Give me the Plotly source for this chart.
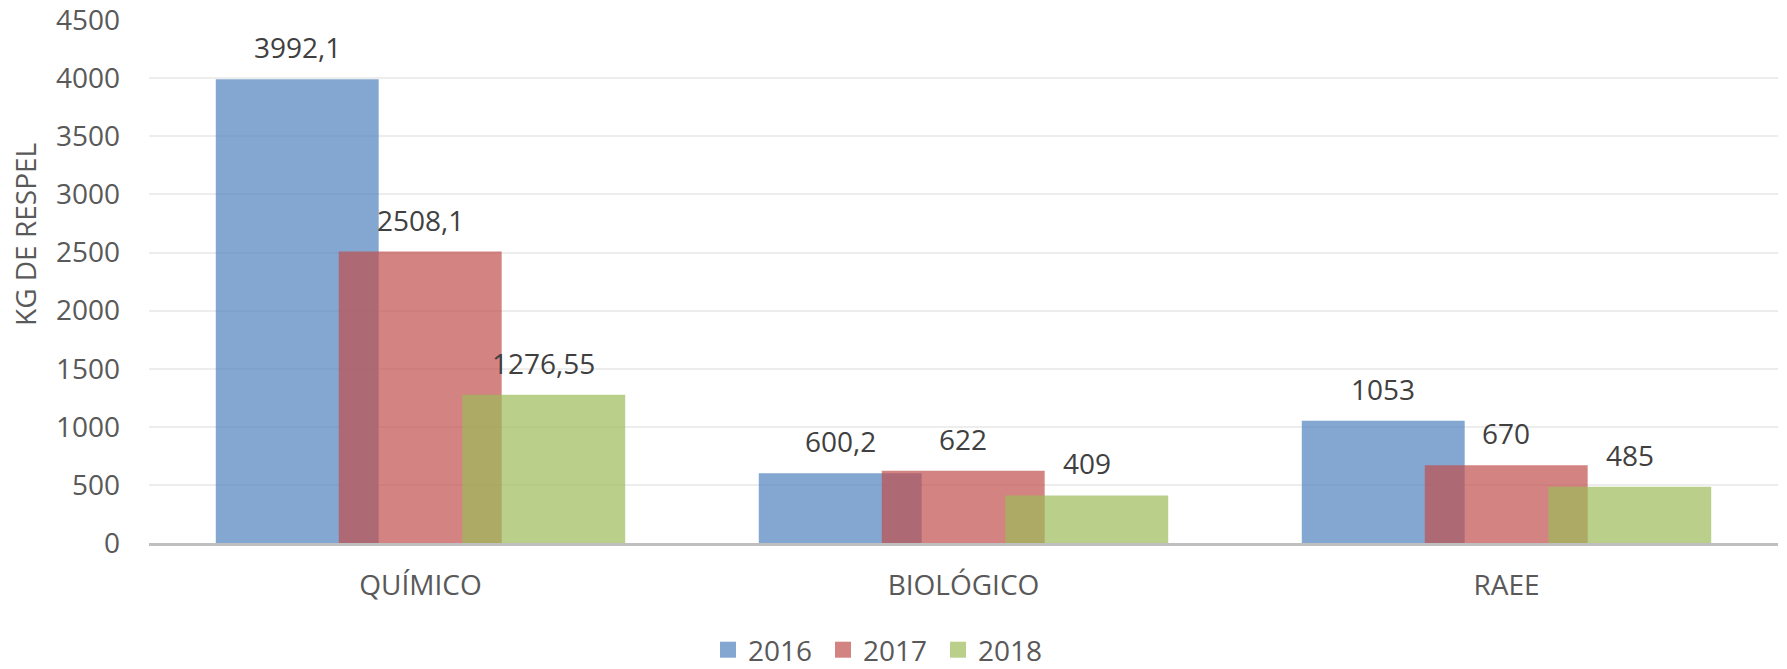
import plotly.graph_objects as go

categories = ["QUÍMICO", "BIOLÓGICO", "RAEE"]
years = ["2016", "2017", "2018"]
values_2016 = [3992.1, 600.2, 1053]
values_2017 = [2508.1, 622, 670]
values_2018 = [1276.55, 409, 485]
label_2016 = ["3992,1", "600,2", "1053"]
label_2017 = ["2508,1", "622", "670"]
label_2018 = ["1276,55", "409", "485"]
y_ticks = [0, 500, 1000, 1500, 2000, 2500, 3000, 3500, 4000, 4500]

series = [
    (years[0], values_2016, label_2016, "rgba(79,129,189,0.7)"),
    (years[1], values_2017, label_2017, "rgba(192,80,77,0.7)"),
    (years[2], values_2018, label_2018, "rgba(155,187,89,0.7)"),
]

FONT = "Open Sans"
FS = 28
bar_w = 0.30
offsets = [-0.377, -0.1505, 0.077]

# page body has an 8px default margin, so the figure is sized to fit the window
W, H = 1779, 661

fig = go.Figure()
xs = list(range(len(categories)))
annotations = []
for (name, vals, labs, col), off in zip(series, offsets):
    fig.add_trace(go.Bar(
        x=xs, y=vals, width=bar_w, offset=off, name=name,
        marker=dict(color=col, line=dict(width=0)),
        showlegend=False, hoverinfo="skip",
    ))
    fig.add_trace(go.Scatter(
        x=[None], y=[None], mode="markers", name=name,
        marker=dict(symbol="square", size=16, color=col),
    ))
    for x, v, t in zip(xs, vals, labs):
        annotations.append(dict(
            x=x + off + bar_w / 2, y=v, xref="x", yref="y", text=t,
            showarrow=False, yanchor="bottom", yshift=11,
            font=dict(family=FONT, size=FS, color="#404040"),
        ))

annotations.append(dict(
    x=-0.0761, y=0.589, xref="paper", yref="paper", text="KG DE RESPEL",
    textangle=-90, showarrow=False, xanchor="center", yanchor="middle",
    font=dict(family=FONT, size=FS, color="#595959"),
))

fig.update_layout(
    width=W, height=H,
    margin=dict(l=141, r=9, t=12, b=126, autoexpand=False),
    barmode="overlay",
    plot_bgcolor="white", paper_bgcolor="white",
    font=dict(family=FONT, size=FS, color="#595959"),
    annotations=annotations,
    legend=dict(
        orientation="h", xref="container", yref="container",
        x=700 / W, xanchor="left", y=1 - 642 / H, yanchor="middle",
        font=dict(family=FONT, size=FS, color="#595959"),
        entrywidth=70, entrywidthmode="pixels", itemclick=False,
    ),
    xaxis=dict(
        range=[-0.5, 2.5], tickvals=xs, ticktext=categories,
        showgrid=False, zeroline=False, showline=True, automargin=False,
        linecolor="#BFBFBF", linewidth=3, ticks="",
        ticklabelstandoff=15,
        tickfont=dict(family=FONT, size=FS, color="#595959"),
    ),
    yaxis=dict(
        range=[0, 4501], tickvals=y_ticks, ticktext=[str(v) for v in y_ticks],
        showgrid=True, gridcolor="#EDEDED", gridwidth=2, automargin=False,
        zeroline=False, showline=False, ticks="",
        ticklabelstandoff=28, ticklabeloverflow="allow",
        tickfont=dict(family=FONT, size=FS, color="#595959"),
    ),
)

fig.write_html("out.html")
